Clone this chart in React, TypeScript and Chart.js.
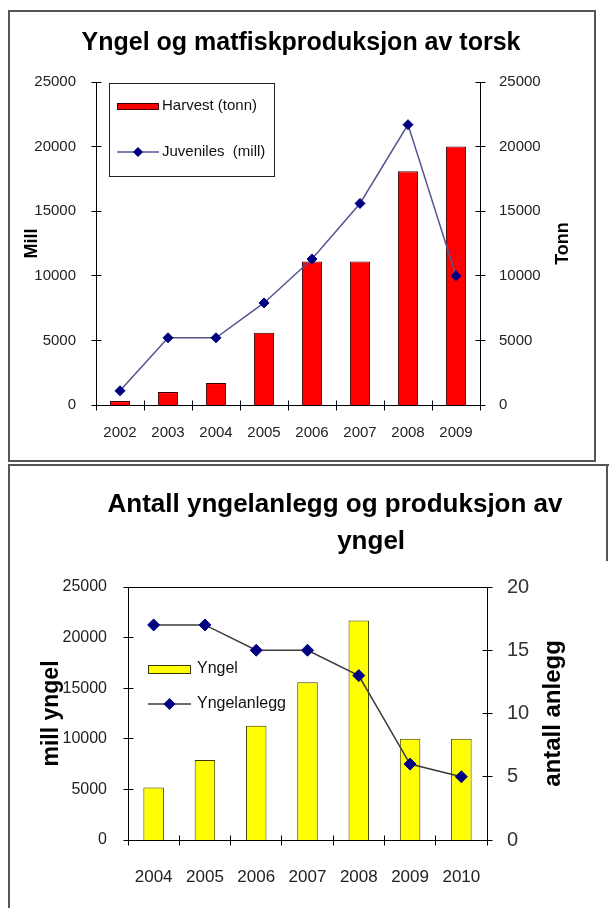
import { useEffect, useRef } from 'react';
import { Chart, registerables } from 'chart.js';

Chart.register(...registerables);

const FONT = "'Liberation Sans', Arial, sans-serif";

// ---------- Top chart data ----------
const topTitle = 'Yngel og matfiskproduksjon av torsk';
const topYears = ['2002', '2003', '2004', '2005', '2006', '2007', '2008', '2009'];
const harvestTonn = [300, 1000, 1700, 5600, 11100, 11100, 18100, 20000];
const juvenilesMill = [1100, 5200, 5200, 7900, 11300, 15600, 21700, 10000];
const topLeftAxisTitle = 'Mill';
const topRightAxisTitle = 'Tonn';
const topAxisMin = 0;
const topAxisMax = 25000;
const topAxisStep = 5000;

// ---------- Bottom chart data ----------
const bottomTitle = ['Antall yngelanlegg og produksjon av', '          yngel'];
const bottomYears = ['2004', '2005', '2006', '2007', '2008', '2009', '2010'];
const yngelMill = [5200, 7900, 11300, 15600, 21700, 10000, 10000];
const yngelanlegg = [17, 17, 15, 15, 13, 6, 5];
const bottomLeftAxisTitle = 'mill yngel';
const bottomRightAxisTitle = 'antall anlegg';
const bottomLeftMax = 25000;
const bottomLeftStep = 5000;
const bottomRightMax = 20;
const bottomRightStep = 5;

// ---------- plugins ----------
const alignPx = (v: number) => Math.round(v - 0.5) + 0.5;

const crossTicks = {
  id: 'crossTicks',
  afterDraw(chart: any, _args: any, opts: any) {
    if (!opts || !opts.length) return;
    const len = opts.length;
    const { ctx } = chart;
    ctx.save();
    ctx.strokeStyle = opts.color || '#000';
    ctx.lineWidth = 1;
    ctx.beginPath();
    Object.values(chart.scales).forEach((s: any) => {
      if (s.axis === 'x') {
        const n = s.getLabels().length;
        const y = alignPx(s.top);
        for (let i = 0; i <= n; i++) {
          const px = alignPx(s.getPixelForDecimal(i / n));
          ctx.moveTo(px, y - len);
          ctx.lineTo(px, y + len);
        }
      } else {
        const ax = alignPx(s.position === 'left' ? s.right : s.left);
        s.ticks.forEach((t: any) => {
          const py = alignPx(s.getPixelForValue(t.value));
          ctx.moveTo(ax - len, py);
          ctx.lineTo(ax + len, py);
        });
      }
    });
    ctx.stroke();
    ctx.restore();
  },
};

const rightTitle = {
  id: 'rightTitle',
  afterDraw(chart: any, _args: any, opts: any) {
    if (!opts || opts.offset == null) return;
    const { ctx } = chart;
    Object.values(chart.scales).forEach((s: any) => {
      const t = s.options.title;
      if (s.position !== 'right' || !t || !t.text) return;
      const size = t.font.size;
      ctx.save();
      ctx.font = `bold ${size}px ${FONT}`;
      ctx.fillStyle = t.color || '#000';
      ctx.textAlign = 'center';
      ctx.textBaseline = 'middle';
      ctx.translate(s.right - opts.offset, (s.top + s.bottom) / 2);
      ctx.rotate(-Math.PI / 2);
      ctx.fillText(t.text, 0, 0);
      ctx.restore();
    });
  },
};

const topFrame = {
  id: 'topFrame',
  afterDraw(chart: any, _args: any, opts: any) {
    if (!opts || !opts.display) return;
    const { ctx, chartArea } = chart;
    ctx.save();
    ctx.strokeStyle = opts.color || '#000';
    ctx.lineWidth = 1;
    ctx.beginPath();
    const y = alignPx(chartArea.top);
    ctx.moveTo(chartArea.left, y);
    ctx.lineTo(chartArea.right, y);
    ctx.stroke();
    ctx.restore();
  },
};

const insideLegend = {
  id: 'insideLegend',
  afterDraw(chart: any, _args: any, opts: any) {
    if (!opts || !opts.display) return;
    const { ctx, chartArea } = chart;
    const x0 = chartArea.left + opts.dx;
    const y0 = chartArea.top + opts.dy;
    ctx.save();
    if (opts.box) {
      ctx.fillStyle = '#fff';
      ctx.fillRect(x0, y0, opts.box.w, opts.box.h);
      ctx.strokeStyle = opts.box.color;
      ctx.lineWidth = 1;
      ctx.strokeRect(x0 + 0.5, y0 + 0.5, opts.box.w, opts.box.h);
    }
    ctx.font = `${opts.fontSize}px ${FONT}`;
    ctx.textBaseline = 'middle';
    ctx.textAlign = 'left';
    chart.data.datasets.forEach((ds: any, i: number) => {
      const cy = y0 + opts.firstRow + i * opts.rowGap;
      const sx = x0 + opts.swatchX;
      if ((ds.type || chart.config.type) === 'bar') {
        const top = Math.round(cy - opts.swatchH / 2);
        ctx.fillStyle = ds.backgroundColor;
        ctx.fillRect(sx, top, opts.swatchW, opts.swatchH);
        ctx.strokeStyle = ds.borderColor;
        ctx.lineWidth = 1;
        ctx.strokeRect(sx + 0.5, top + 0.5, opts.swatchW - 1, opts.swatchH - 1);
      } else {
        ctx.strokeStyle = ds.borderColor;
        ctx.lineWidth = ds.borderWidth;
        ctx.beginPath();
        ctx.moveTo(sx, cy);
        ctx.lineTo(sx + opts.swatchW, cy);
        ctx.stroke();
        const r = ds.pointRadius;
        const cx = sx + opts.swatchW / 2;
        ctx.fillStyle = ds.pointBackgroundColor;
        ctx.beginPath();
        ctx.moveTo(cx, cy - r);
        ctx.lineTo(cx + r, cy);
        ctx.lineTo(cx, cy + r);
        ctx.lineTo(cx - r, cy);
        ctx.closePath();
        ctx.fill();
      }
      ctx.fillStyle = opts.color;
      ctx.fillText(ds.label, sx + opts.swatchW + opts.textGap, cy);
    });
    ctx.restore();
  },
};

const axisBorder = { display: true, color: '#000', width: 1 };
const noGrid = { display: false, drawTicks: false, tickLength: 0 };

function topConfig(): any {
  return {
    type: 'bar',
    data: {
      labels: topYears,
      datasets: [
        {
          type: 'bar',
          label: 'Harvest (tonn)',
          data: harvestTonn,
          yAxisID: 'yR',
          backgroundColor: '#FF0000',
          borderColor: '#3a0000',
          borderWidth: 1,
          barPercentage: 0.42,
          categoryPercentage: 1,
          order: 2,
        },
        {
          type: 'line',
          label: 'Juveniles  (mill)',
          data: juvenilesMill,
          yAxisID: 'yL',
          borderColor: '#55558f',
          borderWidth: 1.5,
          pointStyle: 'rectRot',
          pointRadius: 5,
          pointBackgroundColor: '#000080',
          pointBorderColor: '#000080',
          pointBorderWidth: 1,
          tension: 0,
          fill: false,
          order: 1,
        },
      ],
    },
    options: {
      responsive: false,
      animation: false,
      layout: { padding: 0 },
      plugins: {
        legend: { display: false },
        tooltip: { enabled: false },
        title: {
          display: true,
          text: topTitle,
          color: '#000',
          font: { family: FONT, size: 25, weight: 'bold', lineHeight: 1.2 },
          padding: { top: 16, bottom: 24 },
        },
        crossTicks: { length: 5, color: '#000' },
        rightTitle: { offset: 29 },
        insideLegend: {
          display: true,
          dx: 13,
          dy: 1,
          box: { w: 165, h: 93, color: '#222' },
          firstRow: 23,
          rowGap: 46,
          swatchX: 8,
          swatchW: 42,
          swatchH: 7,
          textGap: 3,
          fontSize: 15,
          color: '#111',
        },
      },
      scales: {
        x: {
          grid: noGrid,
          border: axisBorder,
          ticks: { font: { family: FONT, size: 15 }, color: '#222', padding: 19 },
          afterFit: (s: any) => { s.height = 54; },
        },
        yL: {
          position: 'left',
          min: topAxisMin,
          max: topAxisMax,
          grid: noGrid,
          border: axisBorder,
          ticks: {
            stepSize: topAxisStep,
            font: { family: FONT, size: 15 },
            color: '#222',
            padding: 20,
            callback: (v: any) => String(v),
          },
          title: {
            display: true,
            text: topLeftAxisTitle,
            color: '#000',
            font: { family: FONT, size: 18, weight: 'bold' },
            padding: { top: 11 },
          },
          afterFit: (s: any) => { s.width = 86; },
        },
        yR: {
          position: 'right',
          min: topAxisMin,
          max: topAxisMax,
          grid: noGrid,
          border: axisBorder,
          ticks: {
            stepSize: topAxisStep,
            font: { family: FONT, size: 15 },
            color: '#222',
            padding: 19,
            callback: (v: any) => String(v),
          },
          title: {
            display: false,
            text: topRightAxisTitle,
            color: '#000',
            font: { family: FONT, size: 18, weight: 'bold' },
          },
          afterFit: (s: any) => { s.width = 112; },
        },
      },
    },
    plugins: [crossTicks, rightTitle, insideLegend],
  };
}

function bottomConfig(): any {
  return {
    type: 'bar',
    data: {
      labels: bottomYears,
      datasets: [
        {
          type: 'bar',
          label: 'Yngel',
          data: yngelMill,
          yAxisID: 'yL',
          backgroundColor: '#FFFF00',
          borderColor: '#3a3a00',
          borderWidth: 1,
          barPercentage: 0.4,
          categoryPercentage: 1,
          order: 2,
        },
        {
          type: 'line',
          label: 'Yngelanlegg',
          data: yngelanlegg,
          yAxisID: 'yR',
          borderColor: '#3c3c3c',
          borderWidth: 1.5,
          pointStyle: 'rectRot',
          pointRadius: 6,
          pointBackgroundColor: '#000080',
          pointBorderColor: '#000080',
          pointBorderWidth: 1,
          tension: 0,
          fill: false,
          order: 1,
        },
      ],
    },
    options: {
      responsive: false,
      animation: false,
      layout: { padding: 0 },
      plugins: {
        legend: { display: false },
        tooltip: { enabled: false },
        title: {
          display: true,
          text: bottomTitle,
          color: '#000',
          font: { family: FONT, size: 26, weight: 'bold', lineHeight: 37 / 26 },
          padding: { top: 20.5, bottom: 26.5 },
        },
        crossTicks: { length: 5, color: '#000' },
        rightTitle: { offset: 107 },
        topFrame: { display: true, color: '#000' },
        insideLegend: {
          display: true,
          dx: 20,
          dy: 0,
          firstRow: 82,
          rowGap: 35,
          swatchX: 0,
          swatchW: 43,
          swatchH: 9,
          textGap: 6,
          fontSize: 16,
          color: '#111',
        },
      },
      scales: {
        x: {
          grid: noGrid,
          border: axisBorder,
          ticks: { font: { family: FONT, size: 17 }, color: '#222', padding: 27 },
          afterFit: (s: any) => { s.height = 68; },
        },
        yL: {
          position: 'left',
          min: 0,
          max: bottomLeftMax,
          grid: noGrid,
          border: axisBorder,
          ticks: {
            stepSize: bottomLeftStep,
            font: { family: FONT, size: 16 },
            color: '#222',
            padding: 21,
            callback: (v: any) => String(v),
          },
          title: {
            display: true,
            text: bottomLeftAxisTitle,
            color: '#000',
            font: { family: FONT, size: 23, weight: 'bold' },
            padding: { top: 28 },
          },
          afterFit: (s: any) => { s.width = 118; },
        },
        yR: {
          position: 'right',
          min: 0,
          max: bottomRightMax,
          grid: noGrid,
          border: axisBorder,
          ticks: {
            stepSize: bottomRightStep,
            font: { family: FONT, size: 20 },
            color: '#333',
            padding: 20,
            callback: (v: any) => String(v),
          },
          title: {
            display: false,
            text: bottomRightAxisTitle,
            color: '#000',
            font: { family: FONT, size: 24, weight: 'bold' },
          },
          afterFit: (s: any) => { s.width = 173; },
        },
      },
    },
    plugins: [crossTicks, rightTitle, topFrame, insideLegend],
  };
}

export default function App() {
  const topRef = useRef<HTMLCanvasElement>(null);
  const botRef = useRef<HTMLCanvasElement>(null);

  useEffect(() => {
    const c1 = new Chart(topRef.current as HTMLCanvasElement, topConfig());
    const c2 = new Chart(botRef.current as HTMLCanvasElement, bottomConfig());
    return () => {
      c1.destroy();
      c2.destroy();
    };
  }, []);

  return (
    <div
      style={{
        position: 'fixed',
        left: 0,
        top: 0,
        width: 609,
        height: 908,
        overflow: 'hidden',
        background: '#fff',
      }}
    >
      <div
        style={{
          position: 'absolute',
          left: 8,
          top: 10,
          width: 588,
          height: 452,
          border: '2px solid #555',
          boxSizing: 'border-box',
        }}
      />
      <canvas
        ref={topRef}
        width={582}
        height={447}
        style={{ position: 'absolute', left: 10, top: 12, width: 582, height: 447 }}
      />
      <div
        style={{
          position: 'absolute',
          left: 8,
          top: 464,
          width: 620,
          height: 460,
          borderTop: '2px solid #555',
          borderLeft: '2px solid #555',
          boxSizing: 'border-box',
        }}
      />
      <div
        style={{
          position: 'absolute',
          left: 606,
          top: 464,
          width: 2,
          height: 97,
          background: '#555',
        }}
      />
      <canvas
        ref={botRef}
        width={650}
        height={442}
        style={{ position: 'absolute', left: 10, top: 466, width: 650, height: 442 }}
      />
    </div>
  );
}
